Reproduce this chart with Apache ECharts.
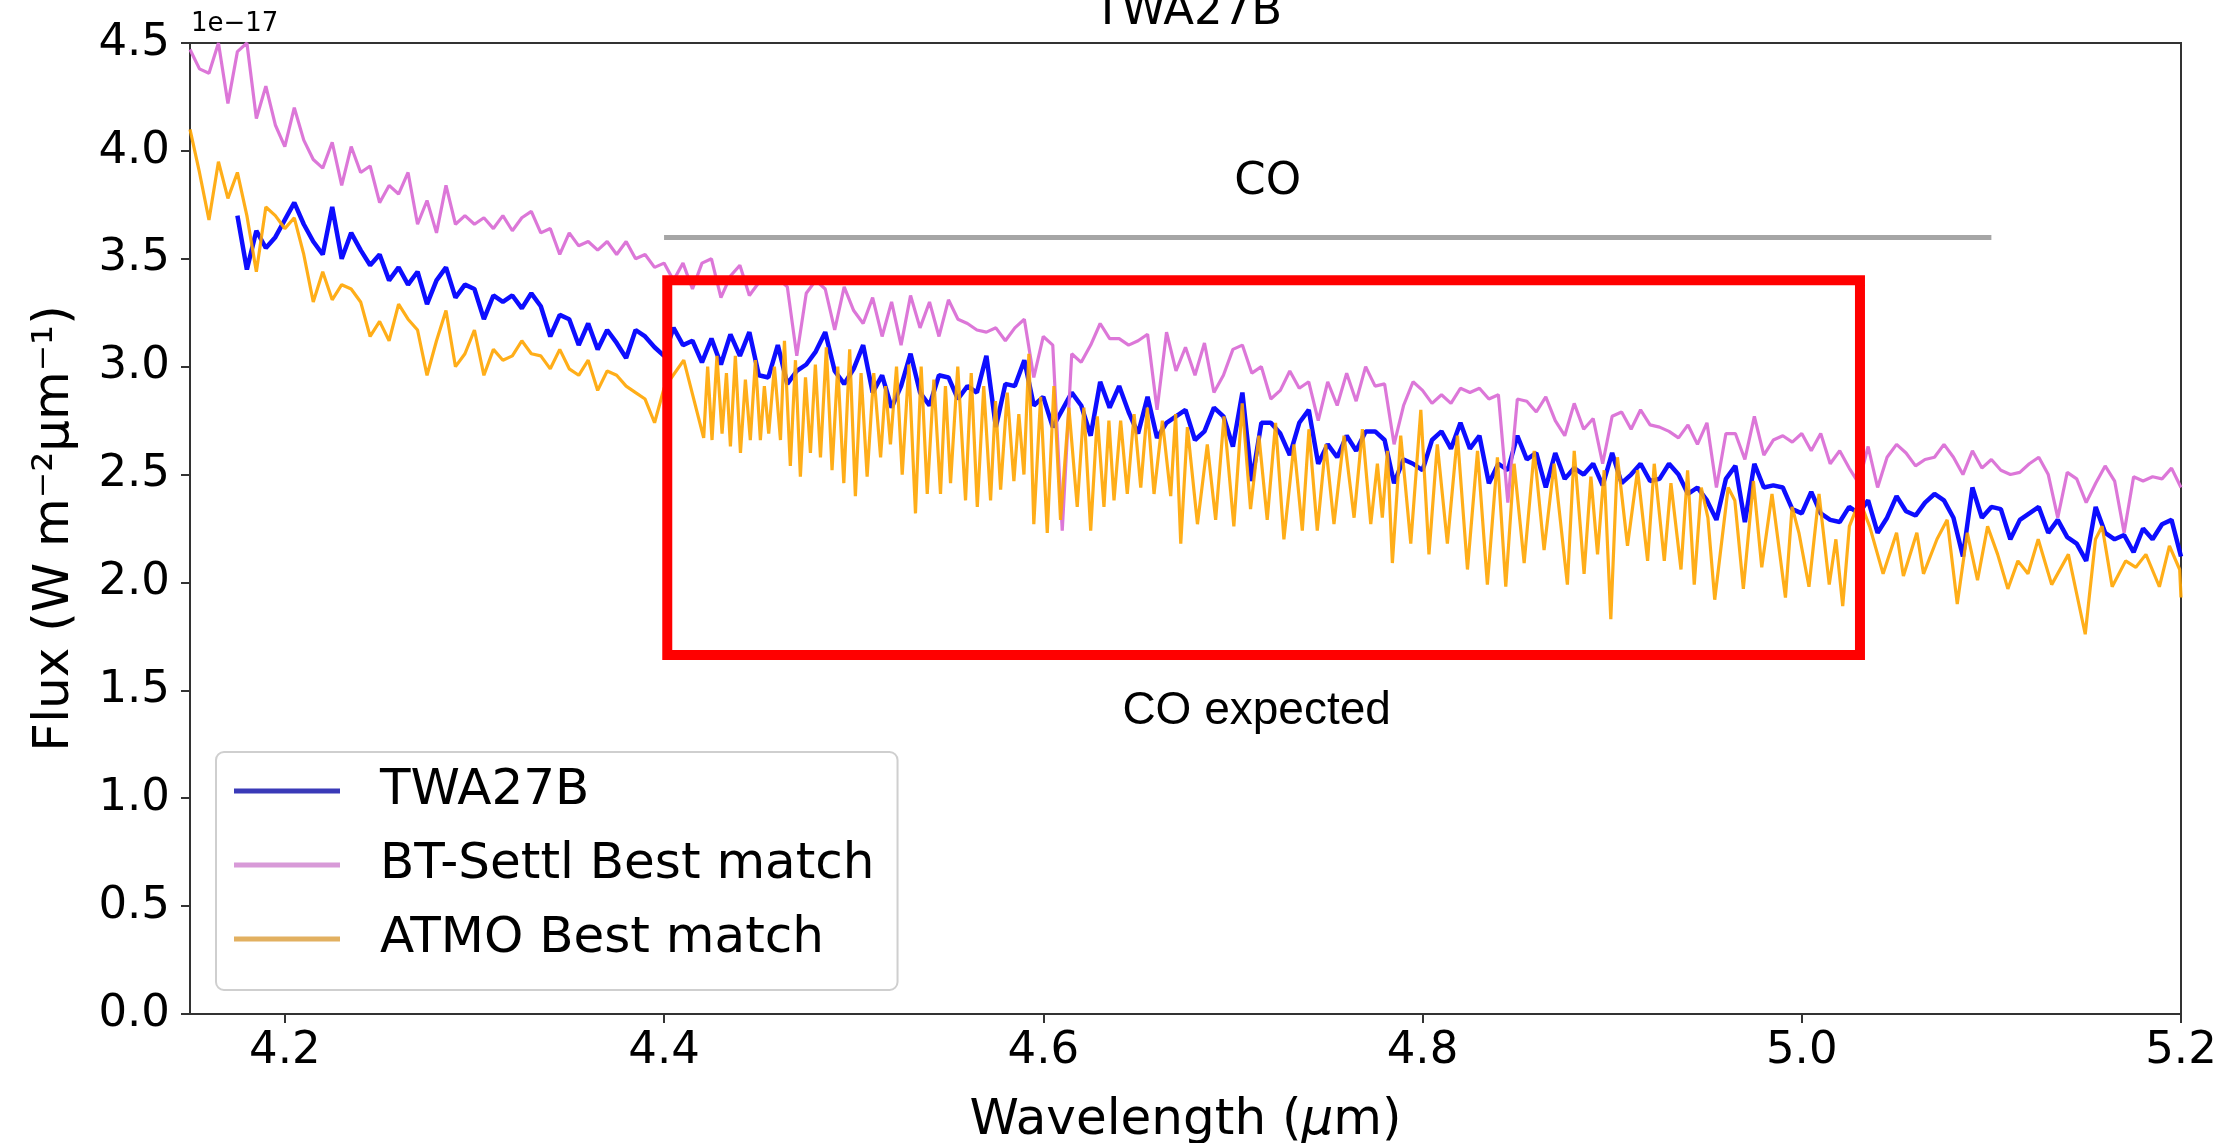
<!DOCTYPE html>
<html>
<head>
<meta charset="utf-8">
<title>TWA27B</title>
<script src="https://cdn.jsdelivr.net/npm/echarts@6.0.0/dist/echarts.min.js"></script>
<style>
    html, body { margin: 0; padding: 0; background: #fff; }
    #main { width: 2229px; height: 1143px; }
</style>
</head>
<body>
<div id="main"></div>
<script>
// wavelength (um) / flux (1e-17 W m-2 um-1)
var xTicks = [4.2, 4.4, 4.6, 4.8, 5.0, 5.2];

var twa27b = [
    [4.175,3.70],[4.180,3.45],[4.185,3.63],[4.190,3.55],[4.195,3.60],[4.200,3.68],[4.205,3.76],[4.210,3.66],[4.215,3.58],[4.220,3.52],
    [4.225,3.74],[4.230,3.50],[4.235,3.62],[4.240,3.54],[4.245,3.47],[4.250,3.52],[4.255,3.40],[4.260,3.46],[4.265,3.38],[4.270,3.44],
    [4.275,3.29],[4.280,3.40],[4.285,3.46],[4.290,3.32],[4.295,3.38],[4.300,3.36],[4.305,3.22],[4.310,3.33],[4.315,3.30],[4.320,3.33],
    [4.325,3.27],[4.330,3.34],[4.335,3.28],[4.340,3.14],[4.345,3.24],[4.350,3.22],[4.355,3.10],[4.360,3.20],[4.365,3.08],[4.370,3.17],
    [4.375,3.11],[4.380,3.04],[4.385,3.17],[4.390,3.14],[4.395,3.09],[4.400,3.05],[4.405,3.18],[4.410,3.10],[4.415,3.12],
    [4.420,3.02],[4.425,3.13],[4.430,3.01],[4.435,3.15],[4.440,3.05],[4.445,3.16],[4.450,2.96],[4.455,2.95],[4.460,3.10],[4.465,2.92],
    [4.470,2.98],[4.475,3.01],[4.480,3.07],[4.485,3.16],[4.490,2.98],[4.495,2.92],[4.500,2.99],[4.505,3.10],[4.510,2.88],[4.515,2.96],
    [4.520,2.81],[4.525,2.91],[4.530,3.06],[4.535,2.88],[4.540,2.82],[4.545,2.96],[4.550,2.95],[4.555,2.85],[4.560,2.91],[4.565,2.88],
    [4.570,3.05],[4.575,2.72],[4.580,2.92],[4.585,2.91],[4.590,3.03],[4.595,2.82],[4.600,2.86],[4.605,2.72],[4.610,2.80],[4.615,2.88],
    [4.620,2.82],[4.625,2.68],[4.630,2.93],[4.635,2.81],[4.640,2.91],[4.645,2.79],[4.650,2.69],[4.655,2.86],[4.660,2.67],[4.665,2.74],
    [4.670,2.77],[4.675,2.80],[4.680,2.66],[4.685,2.70],[4.690,2.81],[4.695,2.77],[4.700,2.63],[4.705,2.88],[4.710,2.47],[4.715,2.74],
    [4.720,2.74],[4.725,2.69],[4.730,2.59],[4.735,2.74],[4.740,2.80],[4.745,2.55],[4.750,2.64],[4.755,2.58],[4.760,2.68],[4.765,2.61],
    [4.770,2.70],[4.775,2.70],[4.780,2.66],[4.785,2.46],[4.790,2.57],[4.795,2.55],[4.800,2.52],[4.805,2.66],[4.810,2.70],[4.815,2.62],
    [4.820,2.74],[4.825,2.62],[4.830,2.68],[4.835,2.46],[4.840,2.55],[4.845,2.52],[4.850,2.68],[4.855,2.57],[4.860,2.60],[4.865,2.44],
    [4.870,2.60],[4.875,2.48],[4.880,2.53],[4.885,2.50],[4.890,2.55],[4.895,2.45],[4.900,2.60],[4.905,2.46],[4.910,2.50],[4.915,2.55],
    [4.920,2.47],[4.925,2.48],[4.930,2.55],[4.935,2.50],[4.940,2.41],[4.945,2.44],[4.950,2.38],[4.955,2.29],[4.960,2.48],[4.965,2.54],
    [4.970,2.28],[4.975,2.55],[4.980,2.44],[4.985,2.45],[4.990,2.44],[4.995,2.34],[5.000,2.32],[5.005,2.42],[5.010,2.32],[5.015,2.29],
    [5.020,2.28],[5.025,2.35],[5.030,2.32],[5.035,2.38],[5.040,2.23],[5.045,2.30],[5.050,2.40],[5.055,2.33],[5.060,2.31],[5.065,2.37],
    [5.070,2.41],[5.075,2.38],[5.080,2.30],[5.085,2.12],[5.090,2.44],[5.095,2.30],[5.100,2.35],[5.105,2.34],[5.110,2.20],[5.115,2.29],
    [5.120,2.32],[5.125,2.35],[5.130,2.23],[5.135,2.29],[5.140,2.21],[5.145,2.18],[5.150,2.10],[5.155,2.35],[5.160,2.23],[5.165,2.20],
    [5.170,2.22],[5.175,2.14],[5.180,2.25],[5.185,2.20],[5.190,2.27],[5.195,2.29],[5.200,2.12]
];

var btSettl = [
    [4.150,4.47],[4.155,4.38],[4.160,4.36],[4.165,4.50],[4.170,4.22],[4.175,4.46],[4.180,4.50],[4.185,4.15],[4.190,4.30],[4.195,4.12],
    [4.200,4.02],[4.205,4.20],[4.210,4.05],[4.215,3.96],[4.220,3.92],[4.225,4.04],[4.230,3.84],[4.235,4.02],[4.240,3.90],[4.245,3.93],
    [4.250,3.76],[4.255,3.84],[4.260,3.80],[4.265,3.90],[4.270,3.66],[4.275,3.77],[4.280,3.62],[4.285,3.84],[4.290,3.66],[4.295,3.70],
    [4.300,3.66],[4.305,3.69],[4.310,3.64],[4.315,3.70],[4.320,3.63],[4.325,3.69],[4.330,3.72],[4.335,3.62],[4.340,3.64],[4.345,3.52],
    [4.350,3.62],[4.355,3.56],[4.360,3.58],[4.365,3.54],[4.370,3.58],[4.375,3.52],[4.380,3.58],[4.385,3.50],[4.390,3.52],[4.395,3.46],
    [4.400,3.48],[4.405,3.40],[4.410,3.48],[4.415,3.36],
    [4.420,3.48],[4.425,3.50],[4.430,3.32],[4.435,3.42],[4.440,3.47],[4.445,3.33],[4.450,3.39],[4.455,3.40],[4.460,3.41],[4.465,3.37],
    [4.470,3.05],[4.475,3.34],[4.480,3.40],[4.485,3.36],[4.490,3.17],[4.495,3.37],[4.500,3.26],[4.505,3.20],[4.510,3.32],[4.515,3.14],
    [4.520,3.30],[4.525,3.10],[4.530,3.33],[4.535,3.18],[4.540,3.30],[4.545,3.14],[4.550,3.31],[4.555,3.22],[4.560,3.20],[4.565,3.17],
    [4.570,3.16],[4.575,3.18],[4.580,3.12],[4.585,3.18],[4.590,3.22],[4.595,2.95],[4.600,3.14],[4.605,3.10],[4.610,2.24],[4.615,3.06],
    [4.620,3.02],[4.625,3.10],[4.630,3.20],[4.635,3.13],[4.640,3.13],[4.645,3.10],[4.650,3.12],[4.655,3.15],[4.660,2.80],[4.665,3.16],
    [4.670,2.98],[4.675,3.09],[4.680,2.96],[4.685,3.11],[4.690,2.88],[4.695,2.96],[4.700,3.08],[4.705,3.10],[4.710,2.97],[4.715,3.00],
    [4.720,2.85],[4.725,2.89],[4.730,2.98],[4.735,2.90],[4.740,2.93],[4.745,2.75],[4.750,2.93],[4.755,2.82],[4.760,2.97],[4.765,2.84],
    [4.770,3.00],[4.775,2.91],[4.780,2.92],[4.785,2.64],[4.790,2.82],[4.795,2.93],[4.800,2.89],[4.805,2.83],[4.810,2.87],[4.815,2.83],
    [4.820,2.90],[4.825,2.88],[4.830,2.90],[4.835,2.85],[4.840,2.87],[4.845,2.37],[4.850,2.85],[4.855,2.84],[4.860,2.79],[4.865,2.86],
    [4.870,2.75],[4.875,2.68],[4.880,2.83],[4.885,2.71],[4.890,2.76],[4.895,2.55],[4.900,2.77],[4.905,2.79],[4.910,2.71],[4.915,2.80],
    [4.920,2.73],[4.925,2.72],[4.930,2.70],[4.935,2.67],[4.940,2.73],[4.945,2.64],[4.950,2.74],[4.955,2.44],[4.960,2.69],[4.965,2.69],
    [4.970,2.57],[4.975,2.77],[4.980,2.59],[4.985,2.66],[4.990,2.68],[4.995,2.65],[5.000,2.69],[5.005,2.61],[5.010,2.69],[5.015,2.55],
    [5.020,2.61],[5.025,2.53],[5.030,2.46],[5.035,2.63],[5.040,2.44],[5.045,2.58],[5.050,2.64],[5.055,2.60],[5.060,2.54],[5.065,2.57],
    [5.070,2.58],[5.075,2.64],[5.080,2.58],[5.085,2.50],[5.090,2.61],[5.095,2.53],[5.100,2.57],[5.105,2.52],[5.110,2.50],[5.115,2.51],
    [5.120,2.55],[5.125,2.58],[5.130,2.50],[5.135,2.30],[5.140,2.51],[5.145,2.48],[5.150,2.37],[5.155,2.46],[5.160,2.54],[5.165,2.47],
    [5.170,2.23],[5.175,2.49],[5.180,2.47],[5.185,2.49],[5.190,2.48],[5.195,2.53],[5.200,2.44]
];

var atmo = [
    [4.150,4.10],[4.155,3.90],[4.160,3.68],[4.165,3.95],[4.170,3.78],[4.175,3.90],[4.180,3.70],[4.185,3.44],[4.190,3.74],[4.195,3.70],
    [4.200,3.64],[4.205,3.69],[4.210,3.52],[4.215,3.30],[4.220,3.44],[4.225,3.31],[4.230,3.38],[4.235,3.36],[4.240,3.30],[4.245,3.14],
    [4.250,3.21],[4.255,3.12],[4.260,3.29],[4.265,3.22],[4.270,3.17],[4.275,2.96],[4.280,3.12],[4.285,3.26],[4.290,3.00],[4.295,3.06],
    [4.300,3.17],[4.305,2.96],[4.310,3.08],[4.315,3.03],[4.320,3.05],[4.325,3.12],[4.330,3.06],[4.335,3.05],[4.340,2.99],[4.345,3.08],
    [4.350,2.99],[4.355,2.96],[4.360,3.03],[4.365,2.89],[4.370,2.98],[4.375,2.96],[4.380,2.91],[4.385,2.88],[4.390,2.85],[4.395,2.74],
    [4.400,2.90],
    [4.4104,3.03],[4.4209,2.67],[4.4230,3.00],[4.4253,2.66],[4.4279,3.05],[4.4306,2.69],[4.4329,2.97],[4.4350,2.63],[4.4376,3.05],[4.4403,2.60],
    [4.4429,2.94],[4.4455,2.66],[4.4482,3.03],[4.4508,2.66],[4.4529,2.91],[4.4552,2.69],[4.4582,3.00],[4.4614,2.66],[4.4635,3.12],[4.4666,2.54],
    [4.4693,3.03],[4.4719,2.49],[4.4746,2.95],[4.4772,2.60],[4.4798,3.01],[4.4825,2.58],[4.4856,3.09],[4.4886,2.52],[4.4916,3.00],[4.4948,2.46],
    [4.4979,3.08],[4.5009,2.40],[4.5039,2.97],[4.5071,2.49],[4.5106,2.97],[4.5142,2.58],[4.5168,2.91],[4.5194,2.64],[4.5226,3.00],[4.5256,2.50],
    [4.5291,3.01],[4.5326,2.32],[4.5356,3.00],[4.5388,2.41],[4.5423,2.94],[4.5458,2.41],[4.5484,2.91],[4.5511,2.46],[4.5549,3.00],[4.5590,2.38],
    [4.5620,2.97],[4.5652,2.35],[4.5686,2.91],[4.5722,2.38],[4.5748,2.84],[4.5775,2.43],[4.5810,2.88],[4.5845,2.47],[4.5871,2.78],[4.5898,2.50],
    [4.5924,3.06],[4.5950,2.27],[4.5986,2.86],[4.6021,2.23],[4.6056,2.91],[4.6091,2.29],[4.6135,2.81],[4.6179,2.35],[4.6214,2.81],[4.6250,2.24],
    [4.6285,2.77],[4.6320,2.35],[4.6346,2.75],[4.6373,2.38],[4.6408,2.75],[4.6443,2.41],[4.6479,2.78],[4.6514,2.44],[4.6549,2.81],[4.6584,2.41],
    [4.6628,2.75],[4.6672,2.40],[4.6698,2.78],[4.6725,2.18],[4.6760,2.72],[4.6813,2.27],
    [4.6865,2.64],[4.6909,2.29],[4.6953,2.77],[4.7005,2.26],[4.7049,2.83],[4.7093,2.34],[4.7137,2.68],[4.7181,2.29],[4.7225,2.74],[4.7269,2.20],
    [4.7322,2.64],[4.7366,2.24],[4.7401,2.71],[4.7445,2.24],[4.7489,2.64],[4.7533,2.27],[4.7586,2.68],[4.7639,2.30],[4.7683,2.71],[4.7727,2.27],
    [4.7762,2.55],[4.7788,2.30],[4.7815,2.61],[4.7841,2.09],[4.7885,2.68],[4.7938,2.18],[4.7991,2.80],[4.8034,2.13],[4.8078,2.64],[4.8131,2.18],
    [4.8184,2.68],[4.8237,2.06],[4.8290,2.61],[4.8342,1.99],[4.8395,2.58],[4.8439,1.98],[4.8483,2.55],[4.8536,2.09],[4.8589,2.61],[4.8641,2.15],
    [4.8694,2.55],[4.8764,1.99],[4.8800,2.61],[4.8852,2.04],[4.8888,2.49],[4.8923,2.13],[4.8958,2.52],[4.8993,1.83],[4.9028,2.58],[4.9081,2.17],
    [4.9134,2.52],[4.9187,2.10],[4.9222,2.55],[4.9275,2.10],[4.9310,2.46],[4.9363,2.06],[4.9398,2.52],[4.9433,1.99],
    [4.9470,2.44],[4.9505,2.30],[4.9541,1.92],[4.9612,2.44],[4.9647,2.38],[4.9692,1.97],[4.9745,2.47],[4.9789,2.07],[4.9843,2.41],[4.9914,1.93],
    [4.9949,2.35],[4.9985,2.23],[5.0038,1.98],[5.0091,2.41],[5.0145,1.99],[5.0180,2.20],[5.0216,1.89],[5.0251,2.26],[5.0305,2.38],[5.0358,2.26],
    [5.0429,2.04],[5.0500,2.23],[5.0536,2.03],[5.0607,2.23],[5.0642,2.04],[5.0713,2.20],[5.0767,2.29],[5.0820,1.90],[5.0873,2.23],[5.0927,2.01],
    [5.0980,2.26],[5.1033,2.13],[5.1087,1.97],[5.1140,2.10],[5.1193,2.04],[5.1247,2.20],[5.1318,1.99],[5.1406,2.13],[5.1442,1.98],[5.1495,1.76],
    [5.1549,2.20],[5.1584,2.26],[5.1637,1.98],[5.1708,2.10],[5.1762,2.07],[5.1815,2.13],[5.1886,1.98],[5.1939,2.17],[5.1993,2.06],[5.2000,1.93]
];

// annotations: CO band line and "CO expected" box (data coords)
var coLine = [[4.4, 3.6], [5.1, 3.6]];
var coBox = [[4.4017, 3.40], [5.0307, 1.664]];

var FONT = 'DejaVu Sans';

var myChart = echarts.init(document.getElementById('main'), null, {renderer: 'canvas'});
var option = {
    animation: false,
    backgroundColor: '#fff',
    grid: {
        left: 190, right: 48, top: 43, bottom: 129,
        containLabel: false,
        outerBoundsMode: 'none',
        show: true,
        borderColor: '#333',
        borderWidth: 2,
        backgroundColor: 'transparent'
    },
    graphic: [
        {type: 'text', x: 1188, y: -10, style: {text: 'TWA27B', font: '45px "DejaVu Sans"', fill: '#000', textAlign: 'center', textVerticalAlign: 'top'}},
        {type: 'text', x: 191, y: 11, style: {text: '1e\u221217', font: '26px "DejaVu Sans"', fill: '#000', textAlign: 'left', textVerticalAlign: 'top'}}
    ],
    legend: {
        orient: 'vertical',
        left: 216,
        top: 752,
        padding: [14, 23, 26, 18],
        itemGap: 24,
        itemWidth: 106,
        itemHeight: 5,
        icon: 'rect',
        backgroundColor: 'rgba(255,255,255,0.8)',
        borderColor: '#cfcfcf',
        borderWidth: 2,
        borderRadius: 8,
        textStyle: {fontFamily: FONT, fontSize: 50, color: '#000', lineHeight: 50, padding: [0, 0, 0, 35]},
        data: [
            {name: 'TWA27B', itemStyle: {color: '#3a3ab8'}},
            {name: 'BT-Settl Best match', itemStyle: {color: '#d89ad8'}},
            {name: 'ATMO Best match', itemStyle: {color: '#e2b060'}}
        ]
    },
    xAxis: {
        type: 'value',
        min: 4.15,
        max: 5.2,
        name: 'Wavelength ({i|\u03bc}m)',
        nameLocation: 'middle',
        nameGap: 82,
        nameTextStyle: {
            fontFamily: FONT, fontSize: 50, color: '#000',
            rich: {i: {fontFamily: FONT, fontSize: 50, fontStyle: 'italic', color: '#000'}}
        },
        axisLine: {show: true, onZero: false, lineStyle: {color: '#333', width: 2}},
        axisTick: {show: true, inside: false, length: 9, customValues: xTicks, lineStyle: {color: '#333', width: 2}},
        axisLabel: {
            show: true, margin: 15, fontFamily: FONT, fontSize: 45, color: '#000',
            customValues: xTicks,
            formatter: function (v) { return v.toFixed(1); }
        },
        splitLine: {show: false}
    },
    yAxis: {
        type: 'value',
        min: 0,
        max: 4.5,
        interval: 0.5,
        name: 'Flux (W m\u207b\u00b2\u03bcm\u207b\u00b9)',
        nameLocation: 'middle',
        nameGap: 110,
        nameTextStyle: {fontFamily: FONT, fontSize: 50, color: '#000'},
        axisLine: {show: true, onZero: false, lineStyle: {color: '#333', width: 2}},
        axisTick: {show: true, inside: false, length: 9, lineStyle: {color: '#333', width: 2}},
        axisLabel: {
            show: true, margin: 20, fontFamily: FONT, fontSize: 45, color: '#000',
            formatter: function (v) { return v.toFixed(1); }
        },
        splitLine: {show: false}
    },
    series: [
        {
            name: 'TWA27B',
            type: 'line',
            data: twa27b,
            showSymbol: false,
            symbol: 'none',
            lineStyle: {color: '#0000ff', width: 4.5, opacity: 0.95},
            itemStyle: {color: '#0000ff'},
            z: 2
        },
        {
            name: 'BT-Settl Best match',
            type: 'line',
            data: btSettl,
            showSymbol: false,
            symbol: 'none',
            lineStyle: {color: '#da70d6', width: 3.2, opacity: 0.95},
            itemStyle: {color: '#da70d6'},
            z: 3
        },
        {
            name: 'ATMO Best match',
            type: 'line',
            data: atmo,
            showSymbol: false,
            symbol: 'none',
            lineStyle: {color: '#ffa500', width: 3.2, opacity: 0.9},
            itemStyle: {color: '#ffa500'},
            z: 4,
            markLine: {
                silent: true,
                symbol: ['none', 'none'],
                z: 8,
                lineStyle: {color: '#a6a6a6', width: 5, type: 'solid'},
                label: {
                    show: true,
                    position: 'insideMiddleTop',
                    distance: 32,
                    offset: [-60, 0],
                    formatter: 'CO',
                    fontFamily: FONT, fontSize: 45, color: '#000'
                },
                data: [[{coord: coLine[0]}, {coord: coLine[1]}]]
            },
            markArea: {
                silent: true,
                z: 10,
                itemStyle: {color: 'rgba(0,0,0,0)', borderColor: '#ff0000', borderWidth: 10},
                label: {
                    show: true,
                    position: 'bottom',
                    distance: 28,
                    offset: [-7, 0],
                    formatter: 'CO expected',
                    fontFamily: 'Liberation Sans', fontSize: 46, color: '#000'
                },
                data: [[{coord: coBox[0]}, {coord: coBox[1]}]]
            }
        }
    ]
};
myChart.setOption(option);
</script>
</body>
</html>
